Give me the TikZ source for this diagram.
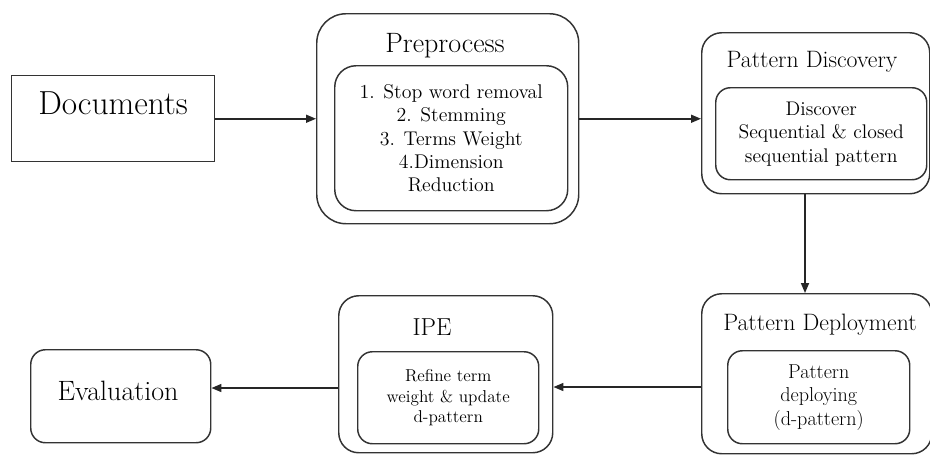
\documentclass[tikz,border=0pt]{standalone}
\usepackage{fontspec}
\usetikzlibrary{arrows.meta}
\begin{document}
\begin{tikzpicture}[x=0.75pt,y=-0.75pt,
  line/.style={draw=black!80,line width=1.1pt},
  sqbox/.style={line,anchor=north west,inner sep=0pt},
  rbox/.style={line,anchor=north west,inner sep=0pt,rounded corners=#1},
  txt/.style={inner sep=0pt,align=center,text=black},
  arr/.style={draw=black!85,line width=1.2pt,-{Triangle[length=7.5pt,width=6pt]}},
  fs/.style n args={2}{font=\rmfamily\fontsize{#1}{#2}\selectfont}
]
\useasboundingbox (0,0) rectangle (930,455);
% Documents
\node[sqbox,minimum width=152.25pt,minimum height=64.5pt] (doc) at (11,75) {};
\node[txt,fs={25}{28}] (doct) at (113,103) {Documents};
% Preprocess
\node[rbox=22pt,minimum width=196.5pt,minimum height=157.5pt] (pre) at (316,13) {};
\node[txt,fs={21}{24}] (pret) at (445,46) {Preprocess};
\node[rbox=16pt,minimum width=174.75pt,minimum height=108.75pt] (prein) at (334,65) {};
\node[txt,fs={14.9}{17.4}] (prel) at (prein.center) {1. Stop word removal\\2. Stemming\\3. Terms Weight\\4.Dimension\\Reduction};
% Pattern Discovery
\node[rbox=15pt,minimum width=171pt,minimum height=120.75pt] (pd) at (701,32) {};
\node[txt,fs={17.8}{20}] (pdt) at (812,62) {Pattern Discovery};
\node[rbox=11pt,minimum width=158.25pt,minimum height=69pt] (pdin) at (715,87) {};
\node[txt,fs={14.8}{17.6}] (pdl) at (pdin.center) {Discover\\Sequential \& closed\\sequential pattern};
% Pattern Deployment
\node[rbox=15pt,minimum width=172.5pt,minimum height=120pt] (pdep) at (701,293) {};
\node[txt,fs={17.8}{20}] (pdept) at (820,325) {Pattern Deployment};
\node[rbox=11pt,minimum width=136.5pt,minimum height=69.75pt] (pdepin) at (727,350) {};
\node[txt,fs={15.1}{17.6}] (pdepl) at (pdepin.center) {Pattern\\deploying\\(d-pattern)};
% IPE
\node[rbox=15pt,minimum width=160.5pt,minimum height=117.75pt] (ipe) at (338,295) {};
\node[txt,fs={18.4}{22}] (ipet) at (432,327) {IPE};
\node[rbox=11pt,minimum width=135.75pt,minimum height=69pt] (ipein) at (357,351) {};
\node[txt,fs={12.9}{15.4}] (ipel) at (ipein.center) {Refine term\\weight \& update\\d-pattern};
% Evaluation
\node[rbox=11pt,minimum width=135pt,minimum height=69.75pt] (eval) at (30,349) {};
\node[txt,fs={21}{24}] (evalt) at (118,391) {Evaluation};
% connectors
\coordinate (pdb) at (805,0);
\coordinate (r2) at (0,387);
\coordinate (r3) at (0,388);
\draw[arr] (doc.east) -- (pre.west);
\draw[arr] (pre.east) -- (pre.east -| pd.west);
\draw[arr] (pdb |- pd.south) -- (pdb |- pdep.north);
\draw[arr] (pdep.west |- r2) -- (ipe.east |- r2);
\draw[arr] (ipe.west |- r3) -- (eval.east |- r3);
\end{tikzpicture}
\end{document}
